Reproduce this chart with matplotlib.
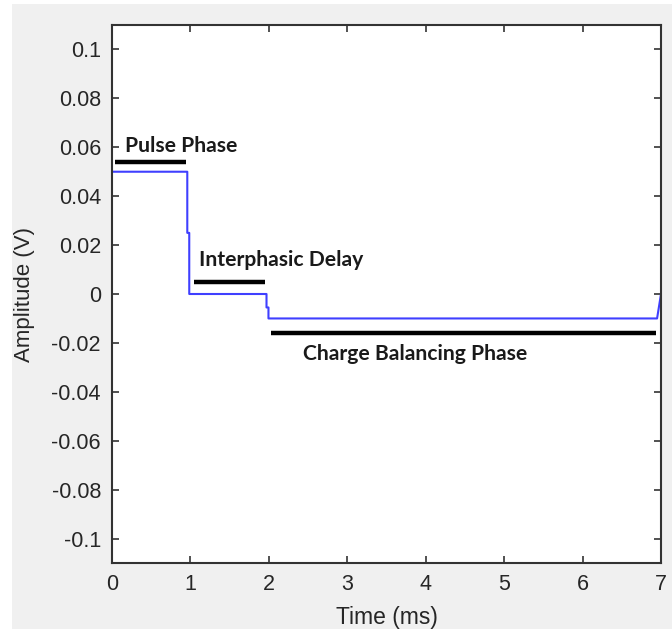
import matplotlib.pyplot as plt
from matplotlib.patches import Rectangle

# waveform (time in ms, amplitude in V)
time_ms = [0, 0.96, 0.96, 0.985, 0.985, 1.97, 1.97, 1.995, 1.995, 6.95, 7.0]
amp_v = [0.05, 0.05, 0.025, 0.025, 0.0, 0.0, -0.0055, -0.0055, -0.01, -0.01, 0.0]

# phase markers
phase_labels = ["Pulse Phase", "Interphasic Delay", "Charge Balancing Phase"]
bar_start = [0.04, 1.05, 2.03]
bar_end = [0.94, 1.95, 6.93]
bar_y = [0.054, 0.005, -0.016]
text_x = [0.16, 1.11, 2.44]
text_y = [0.0605, 0.0137, -0.0245]

xticks = [0, 1, 2, 3, 4, 5, 6, 7]
yticks = [-0.1, -0.08, -0.06, -0.04, -0.02, 0, 0.02, 0.04, 0.06, 0.08, 0.1]
ytick_labels = ["-0.1", "-0.08", "-0.06", "-0.04", "-0.02", "0", "0.02", "0.04", "0.06", "0.08", "0.1"]

fig = plt.figure(figsize=(6.72, 6.29), dpi=100)
fig.patch.set_facecolor("white")
fig.patches.append(Rectangle((12 / 672, 0), 1 - 12 / 672, 1 - 4 / 629,
                             transform=fig.transFigure, facecolor="#f0f0f0",
                             edgecolor="none", zorder=-10))

ax = fig.add_axes([112 / 672, 66 / 629, 549 / 672, 538 / 629])
ax.plot(time_ms, amp_v, color="#3f3fff", linewidth=1.5)

for lab, x0, x1, yb, tx, ty in zip(phase_labels, bar_start, bar_end, bar_y, text_x, text_y):
    ax.plot([x0, x1], [yb, yb], color="black", linewidth=3.2, solid_capstyle="butt")
    ax.text(tx, ty, lab, fontsize=15.2, fontweight="bold", family=["Lato", "DejaVu Sans"],
            color="#1a1a1a", ha="left", va="center")

ax.set_xlim(0, 7)
ax.set_ylim(-0.11, 0.11)
ax.set_xticks(xticks)
ax.set_xticklabels([str(t) for t in xticks])
ax.set_yticks(yticks)
ax.set_yticklabels(ytick_labels)

ax.tick_params(direction="in", top=True, right=True, length=5, width=1.2,
               colors="#333333", labelsize=15.5, labelcolor="#262626", pad=8)
for lbl in ax.get_xticklabels() + ax.get_yticklabels():
    lbl.set_family("Liberation Sans")
for sp in ax.spines.values():
    sp.set_color("#333333")
    sp.set_linewidth(1.5)

ax.set_xlabel("Time (ms)", fontsize=16.5, family="Liberation Sans", color="#262626", labelpad=8)
ax.set_ylabel("Amplitude (V)", fontsize=16, family="Liberation Sans", color="#262626", labelpad=12)

plt.savefig("out.png", dpi=100)
